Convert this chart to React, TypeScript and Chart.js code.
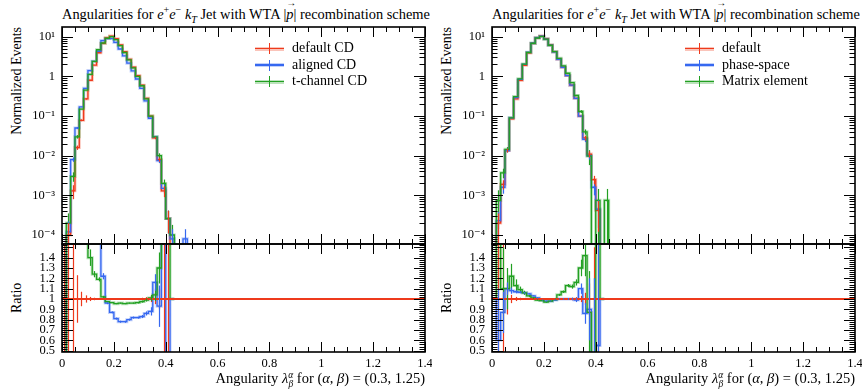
import React, { useEffect, useRef } from 'react';
import { Chart, registerables } from 'chart.js';

Chart.register(...registerables);

// ---------- axes / binning ----------
const BIN_WIDTH = 1 / 60;
const X_MIN = 0;
const X_MAX = 1.4;
const LOG_MIN = 5.93e-5;
const LOG_MAX = 17.6;
const RATIO_MIN = 0.487;
const RATIO_MAX = 1.532;
const REF_RATIO = 1;

const X_TICKS = [0, 0.2, 0.4, 0.6, 0.8, 1, 1.2, 1.4];
const X_TICK_LABELS = ['0', '0.2', '0.4', '0.6', '0.8', '1', '1.2', '1.4'];
const LOG_TICKS = [1e-4, 1e-3, 1e-2, 1e-1, 1, 10];
const LOG_TICK_LABELS = ['10⁻⁴', '10⁻³', '10⁻²', '10⁻¹', '1', '10¹'];
const RATIO_TICKS = [0.5, 0.6, 0.7, 0.8, 0.9, 1, 1.1, 1.2, 1.3, 1.4];
const RATIO_TICK_LABELS = ['0.5', '0.6', '0.7', '0.8', '0.9', '1', '1.1', '1.2', '1.3', '1.4'];

const LEFT_LEGEND = ['default CD', 'aligned CD', 't-channel CD'];
const RIGHT_LEGEND = ['default', 'phase-space', 'Matrix element'];

// ---------- left panel: normalized events per bin ----------
const LEFT_DEFAULT_CD = [0, 1.0e-4, 1.3e-3, 1.6e-2, 7.8e-2, 0.27, 0.8, 1.92, 3.95, 6.8, 9.4, 10.4, 8.9, 6.2, 4.2, 2.7, 1.7, 1.05, 0.6, 0.28, 0.1, 0.028, 8e-3, 1.3e-3, 2.6e-4, 0, 0, 0, 0, 0];
const LEFT_ALIGNED_CD = [0, 1.2e-4, 8e-3, 5e-2, 0.17, 0.5, 1.4, 2.4, 4.3, 8.0, 9.0, 9.0, 7.2, 4.9, 3.3, 2.15, 1.37, 0.86, 0.5, 0.24, 0.088, 0.03, 7.5e-3, 1.5e-3, 2.6e-4, 8e-5, 0, 0, 8e-5, 0];
const LEFT_TCHANNEL_CD = [0, 2e-4, 3e-3, 3e-2, 0.15, 0.45, 1.12, 2.38, 4.7, 6.95, 9.15, 10.05, 8.5, 5.95, 4.0, 2.6, 1.63, 1.0, 0.58, 0.27, 0.1, 0.03, 0.01, 2e-3, 2.6e-4, 1e-4, 0, 0, 0, 0];

const LEFT_DEFAULT_CD_ERR = [0, 1e-4, 5e-4, 2e-3, 4e-3, 0.01, 0, 0, 0, 0, 0, 0, 0, 0, 0, 0, 0, 0, 0, 0, 0, 2e-3, 1e-3, 4e-4, 1.5e-4, 0, 0, 0, 0, 0];
const LEFT_ALIGNED_CD_ERR = [0, 1e-4, 1e-3, 3e-3, 0, 0, 0, 0, 0, 0, 0, 0, 0, 0, 0, 0, 0, 0, 0, 0, 0, 0, 1e-3, 4e-4, 1.5e-4, 6e-5, 0, 0, 6e-5, 0];
const LEFT_TCHANNEL_CD_ERR = [0, 1.5e-4, 8e-4, 3e-3, 0, 0, 0, 0, 0, 0, 0, 0, 0, 0, 0, 0, 0, 0, 0, 0, 0, 0, 1.5e-3, 5e-4, 1.5e-4, 8e-5, 0, 0, 0, 0];

// ---------- right panel: normalized events per bin ----------
const RIGHT_DEFAULT = [0, 2e-4, 1.9e-3, 1.35e-2, 8.5e-2, 0.27, 0.79, 1.9, 3.9, 6.8, 9.4, 10.4, 8.9, 6.2, 4.2, 2.7, 1.7, 1.05, 0.6, 0.28, 0.1, 0.028, 0.011, 2.5e-3, 4.2e-4, 0, 0, 0, 0, 0];
const RIGHT_PHASE_SPACE = [0, 2.3e-4, 1.6e-3, 1.35e-2, 9e-2, 0.29, 0.84, 2.0, 4.05, 6.9, 9.45, 10.3, 8.75, 6.1, 4.15, 2.7, 1.7, 1.05, 0.6, 0.28, 0.1, 0.026, 0.01, 1.6e-3, 4.5e-4, 0, 0, 0, 0, 0];
const RIGHT_MATRIX_ELEMENT = [0, 7.4e-4, 3.7e-3, 1.45e-2, 9e-2, 0.31, 0.87, 2.05, 4.0, 6.85, 9.3, 10.2, 8.7, 6.1, 4.2, 2.85, 1.85, 1.2, 0.7, 0.33, 0.13, 0.04, 9.8e-3, 0, 7.5e-4, 0, 7.5e-4, 0, 0, 0];

const RIGHT_DEFAULT_ERR = [0, 1.5e-4, 5e-4, 1.5e-3, 0, 0, 0, 0, 0, 0, 0, 0, 0, 0, 0, 0, 0, 0, 0, 0, 0, 4e-3, 2e-3, 6e-4, 3e-4, 0, 0, 0, 0, 0];
const RIGHT_PHASE_SPACE_ERR = [0, 1.5e-4, 5e-4, 1.5e-3, 0, 0, 0, 0, 0, 0, 0, 0, 0, 0, 0, 0, 0, 0, 0, 0, 0, 4e-3, 2e-3, 6e-4, 3e-4, 0, 0, 0, 0, 0];
const RIGHT_MATRIX_ELEMENT_ERR = [0, 6e-4, 1e-3, 2e-3, 0, 0, 0, 0, 0, 0, 0, 0, 0, 0, 0, 0, 0, 0, 0, 0, 0.01, 6e-3, 4e-3, 0, 7e-4, 0, 7e-4, 0, 0, 0];

// ---------- ratio panels (ratio to default) ----------
const LEFT_RATIO_ALIGNED = [0.2, 3, 3, 3, 3, 3, 3, 3, 3, 1.22, 0.96, 0.87, 0.81, 0.78, 0.78, 0.8, 0.82, 0.82, 0.83, 0.86, 0.88, 1.16, 0.93, 3, 0.3, 1];
const LEFT_RATIO_TCHANNEL = [0.2, 3, 3, 3, 3, 3, 1.4, 1.24, 1.19, 1.02, 0.975, 0.965, 0.955, 0.96, 0.955, 0.96, 0.96, 0.965, 0.975, 0.99, 1.01, 1.04, 1.3, 3, 3, 1];
const LEFT_RATIO_DEFAULT_ERR = [1, 1, 1, 0.23, 0.07, 0.035, 0.02, 0.012, 0.008, 0.006, 0.005, 0.005, 0.005, 0.005, 0.005, 0.006, 0.007, 0.009, 0.012, 0.018, 0.03, 0.05, 0.1, 0.6, 1, 0];
const LEFT_RATIO_ALIGNED_ERR = [0, 0, 0, 0, 0, 0, 0, 0, 0, 0.03, 0.01, 0.01, 0.01, 0.01, 0.01, 0.01, 0.01, 0.01, 0.015, 0.02, 0.04, 0.08, 0.2, 0, 0, 0];
const LEFT_RATIO_TCHANNEL_ERR = [0, 0, 0, 0, 0, 0, 0.08, 0.03, 0.02, 0.01, 0.005, 0.005, 0.005, 0.005, 0.005, 0.005, 0.006, 0.008, 0.01, 0.015, 0.03, 0.06, 0.15, 0, 0, 0];

const RIGHT_RATIO_PHASE_SPACE = [1, 0.6, 0.87, 1.1, 1.08, 1.07, 1.065, 1.06, 1.05, 1.03, 1.01, 0.99, 0.98, 0.98, 0.99, 1.0, 1.0, 1.0, 1.0, 0.99, 1.1, 0.86, 0.9, 0.2, 0.55, 1];
const RIGHT_RATIO_MATRIX_ELEMENT = [1, 3, 1.1, 1.1, 1.22, 1.13, 1.09, 1.06, 1.03, 1.01, 0.99, 0.985, 0.97, 0.98, 0.995, 1.04, 1.07, 1.13, 1.12, 1.16, 1.3, 1.42, 0.87, 0.2, 3, 1];
const RIGHT_RATIO_DEFAULT_ERR = [0, 1, 1, 0.15, 0.04, 0.02, 0.012, 0.008, 0.006, 0.005, 0.005, 0.005, 0.005, 0.005, 0.005, 0.006, 0.007, 0.009, 0.012, 0.018, 0.03, 0.06, 0.15, 0.5, 1, 0];
const RIGHT_RATIO_PHASE_SPACE_ERR = [0, 0.5, 0.2, 0.06, 0.03, 0.015, 0.01, 0.008, 0.006, 0.005, 0.005, 0.005, 0.005, 0.005, 0.005, 0.006, 0.007, 0.009, 0.012, 0.02, 0.05, 0.1, 0.3, 1, 1, 0];
const RIGHT_RATIO_MATRIX_ELEMENT_ERR = [0, 1, 0.4, 0.2, 0.12, 0.06, 0.03, 0.02, 0.01, 0.008, 0.006, 0.006, 0.006, 0.006, 0.008, 0.01, 0.012, 0.015, 0.02, 0.03, 0.08, 0.2, 0.4, 1, 1, 0];

// ---------- styles ----------
const RED = '#ee3a1c';
const BLUE = '#3668f0';
const GREEN = '#22a022';
const RED_BAND = 'rgba(238,58,28,0.3)';
const BLUE_BAND = 'rgba(54,104,240,0.3)';
const GREEN_BAND = 'rgba(34,160,34,0.3)';
const FONT = "'Liberation Serif', 'DejaVu Serif', serif";

const LOG_FLOOR = 1e-9;

function stepPoints(vals: number[], floor: number) {
  const pts = vals.map((v, i) => ({ x: i * BIN_WIDTH, y: v > 0 ? v : floor }));
  const last = vals[vals.length - 1];
  pts.push({ x: vals.length * BIN_WIDTH, y: last > 0 ? last : floor });
  return pts;
}

function lineDs(vals: number[], color: string, width: number, floor: number, errs?: number[]) {
  return {
    data: stepPoints(vals, floor),
    borderColor: color,
    backgroundColor: color,
    borderWidth: width,
    pointRadius: 0,
    stepped: 'before',
    fill: false,
    tension: 0,
    clip: 0,
    spanGaps: true,
    vals,
    errs,
  };
}

const frameTicksPlugin = {
  id: 'frameTicks',
  afterDatasetsDraw(chart: any) {
    const opts = chart.options.plugins.frameTicks;
    if (!opts) return;
    const { ctx, chartArea: a, scales } = chart;
    const xs = scales.x;
    const ys = scales.y;
    // error bars
    ctx.save();
    ctx.beginPath();
    ctx.rect(a.left, a.top, a.right - a.left, a.bottom - a.top);
    ctx.clip();
    chart.data.datasets.forEach((ds: any) => {
      if (!ds.errs) return;
      ctx.strokeStyle = ds.borderColor;
      ctx.lineWidth = 1.2;
      ds.errs.forEach((e: number, i: number) => {
        if (!e) return;
        const v = ds.vals[i];
        const cx = Math.round(xs.getPixelForValue((i + 0.5) * BIN_WIDTH)) + 0.5;
        const hi = v + e;
        const lo = v - e;
        const pyHi = ys.getPixelForValue(hi);
        const pyLo = opts.log && lo <= 0 ? a.bottom + 20 : ys.getPixelForValue(lo);
        ctx.beginPath();
        ctx.moveTo(cx, pyHi);
        ctx.lineTo(cx, pyLo);
        ctx.stroke();
      });
    });
    ctx.restore();

    // inner ticks + frame
    ctx.save();
    ctx.strokeStyle = '#000';
    ctx.lineWidth = 1;
    const tick = (x1: number, y1: number, x2: number, y2: number) => {
      ctx.beginPath();
      ctx.moveTo(x1, y1);
      ctx.lineTo(x2, y2);
      ctx.stroke();
    };
    for (let i = 0; i <= 28; i++) {
      const v = i * 0.05;
      const major = i % 4 === 0;
      const len = major ? 10 : 5;
      const px = Math.round(xs.getPixelForValue(v)) + 0.5;
      tick(px, a.bottom, px, a.bottom - len);
      tick(px, a.top, px, a.top + len);
    }
    if (opts.log) {
      for (let d = -5; d <= 1; d++) {
        for (let m = 1; m <= 9; m++) {
          const v = m * Math.pow(10, d);
          if (v < ys.min || v > ys.max) continue;
          const len = m === 1 ? 11 : 5.5;
          const py = Math.round(ys.getPixelForValue(v)) + 0.5;
          tick(a.left, py, a.left + len, py);
          tick(a.right, py, a.right - len, py);
        }
      }
    } else {
      for (let i = 25; i <= 76; i++) {
        const v = i * 0.02;
        const major = i % 5 === 0;
        const len = major ? 11 : 5.5;
        const py = Math.round(ys.getPixelForValue(v)) + 0.5;
        tick(a.left, py, a.left + len, py);
        tick(a.right, py, a.right - len, py);
      }
    }
    ctx.lineWidth = 1.6;
    ctx.strokeRect(a.left, a.top, a.right - a.left, a.bottom - a.top);
    ctx.restore();
  },
};

const TICK_FONT = { family: FONT, size: 12.5 };

function baseX(display: boolean) {
  return {
    type: 'linear',
    min: X_MIN,
    max: X_MAX,
    display,
    afterFit: (s: any) => {
      if (display) s.height = 37;
      s.paddingLeft = 0;
      s.paddingRight = 0;
    },
    afterBuildTicks: (s: any) => {
      s.ticks = X_TICKS.map((v) => ({ value: v }));
    },
    ticks: {
      autoSkip: false,
      maxRotation: 0,
      padding: 4,
      color: '#000',
      font: TICK_FONT,
      callback: (v: number) => X_TICK_LABELS[X_TICKS.indexOf(v)] ?? '',
    },
    grid: { display: false, drawTicks: false },
    border: { display: false },
  };
}

function yFit(s: any) {
  s.width = 62;
  s.paddingTop = 0;
  s.paddingBottom = 0;
}

function mainConfig(datasets: any[]) {
  return {
    type: 'line',
    data: { datasets },
    plugins: [frameTicksPlugin],
    options: {
      animation: false,
      responsive: false,
      devicePixelRatio: 1,
      events: [],
      layout: { padding: { top: 27, bottom: 6, right: 7, left: 0 } },
      plugins: { legend: { display: false }, tooltip: { enabled: false }, frameTicks: { log: true } },
      scales: {
        x: baseX(false),
        y: {
          type: 'logarithmic',
          min: LOG_MIN,
          max: LOG_MAX,
          afterFit: yFit,
          afterBuildTicks: (s: any) => {
            s.ticks = LOG_TICKS.map((v) => ({ value: v }));
          },
          ticks: {
            autoSkip: false,
            padding: 7,
            color: '#000',
            font: TICK_FONT,
            callback: (v: number) => LOG_TICK_LABELS[LOG_TICKS.indexOf(v)] ?? '',
          },
          grid: { display: false, drawTicks: false },
          border: { display: false },
        },
      },
    },
  };
}

function ratioConfig(datasets: any[]) {
  return {
    type: 'line',
    data: { datasets },
    plugins: [frameTicksPlugin],
    options: {
      animation: false,
      responsive: false,
      devicePixelRatio: 1,
      events: [],
      layout: { padding: { top: 6, bottom: 0, right: 7, left: 0 } },
      plugins: { legend: { display: false }, tooltip: { enabled: false }, frameTicks: { log: false } },
      scales: {
        x: baseX(true),
        y: {
          type: 'linear',
          min: RATIO_MIN,
          max: RATIO_MAX,
          afterFit: yFit,
          afterBuildTicks: (s: any) => {
            s.ticks = RATIO_TICKS.map((v) => ({ value: v }));
          },
          ticks: {
            autoSkip: false,
            padding: 7,
            color: '#000',
            font: TICK_FONT,
            callback: (v: number) => RATIO_TICK_LABELS[RATIO_TICKS.indexOf(v)] ?? '',
          },
          grid: { display: false, drawTicks: false },
          border: { display: false },
        },
      },
    },
  };
}

function refRatioDs(errs: number[]) {
  const ds: any = {
    data: [
      { x: X_MIN, y: REF_RATIO },
      { x: X_MAX, y: REF_RATIO },
    ],
    borderColor: RED,
    borderWidth: 2,
    pointRadius: 0,
    fill: false,
    tension: 0,
    clip: 0,
    vals: errs.map(() => REF_RATIO),
    errs,
  };
  return ds;
}

function ChartCanvas({ left, top, width, height, build }: any) {
  const ref = useRef<HTMLCanvasElement>(null);
  useEffect(() => {
    const chart = new Chart(ref.current as HTMLCanvasElement, build());
    return () => chart.destroy();
  }, []);
  return (
    <canvas
      ref={ref}
      width={width}
      height={height}
      style={{ position: 'absolute', left, top, width, height, display: 'block' }}
    />
  );
}

function Legend({ left, top, labels }: { left: number; top: number; labels: string[] }) {
  const colors = [RED, BLUE, GREEN];
  const bands = [RED_BAND, BLUE_BAND, GREEN_BAND];
  return (
    <div style={{ position: 'absolute', left, top }}>
      {labels.map((lab, i) => (
        <div key={lab} style={{ position: 'relative', height: 16.5, width: 160 }}>
          <div style={{ position: 'absolute', left: 0, top: 6.5, width: 29, height: 4, background: bands[i] }} />
          <div style={{ position: 'absolute', left: 0, top: 7.5, width: 29, height: 1.6, background: colors[i] }} />
          <div style={{ position: 'absolute', left: 14, top: 3, width: 1.4, height: 11, background: colors[i] }} />
          <span
            style={{
              position: 'absolute',
              left: 37,
              top: 0,
              fontSize: 14,
              lineHeight: '16px',
              whiteSpace: 'nowrap',
              fontFamily: FONT,
            }}
          >
            {lab}
          </span>
        </div>
      ))}
    </div>
  );
}

function VecP() {
  return (
    <span style={{ position: 'relative', display: 'inline-block' }}>
      <i>p</i>
      <span style={{ position: 'absolute', left: 0, top: -8, fontSize: 10, lineHeight: '10px' }}>→</span>
    </span>
  );
}

function Panel({ offsetX, main, ratio, legend }: any) {
  return (
    <>
      <div
        style={{
          position: 'absolute',
          left: offsetX + 62,
          top: 2,
          fontSize: 14.4,
          lineHeight: '16px',
          whiteSpace: 'nowrap',
          fontFamily: FONT,
        }}
      >
        Angularities for <i>e</i>
        <sup style={{ fontSize: '0.7em' }}>+</sup>
        <i>e</i>
        <sup style={{ fontSize: '0.7em' }}>−</sup> <i>k</i>
        <sub style={{ fontSize: '0.7em' }}>
          <i>T</i>
        </sub>{' '}
        Jet with WTA |<VecP />| recombination scheme
      </div>
      <div
        style={{
          position: 'absolute',
          left: offsetX + 9,
          top: 27,
          writingMode: 'vertical-rl',
          transform: 'rotate(180deg)',
          fontSize: 14,
          lineHeight: '16px',
          whiteSpace: 'nowrap',
          fontFamily: FONT,
        }}
      >
        Normalized Events
      </div>
      <div
        style={{
          position: 'absolute',
          left: offsetX + 9,
          top: 244,
          height: 108,
          writingMode: 'vertical-rl',
          transform: 'rotate(180deg)',
          textAlign: 'center',
          fontSize: 14,
          lineHeight: '16px',
          whiteSpace: 'nowrap',
          fontFamily: FONT,
        }}
      >
        Ratio
      </div>
      <ChartCanvas left={offsetX} top={0} width={432} height={250} build={main} />
      <ChartCanvas left={offsetX} top={238} width={432} height={151} build={ratio} />
      <Legend left={offsetX + 255} top={40} labels={legend} />
      <div
        style={{
          position: 'absolute',
          left: offsetX + 180,
          width: 245,
          top: 370,
          textAlign: 'right',
          fontSize: 14.5,
          lineHeight: '16px',
          whiteSpace: 'nowrap',
          fontFamily: FONT,
        }}
      >
        Angularity <i>λ</i>
        <span
          style={{
            display: 'inline-flex',
            flexDirection: 'column',
            verticalAlign: 'middle',
            fontSize: '0.65em',
            lineHeight: '0.9',
          }}
        >
          <i>α</i>
          <i>β</i>
        </span>{' '}
        for (<i>α</i>, <i>β</i>) = (0.3, 1.25)
      </div>
    </>
  );
}

export default function App() {
  const leftMain = () =>
    mainConfig([
      lineDs(LEFT_TCHANNEL_CD, GREEN, 1.3, LOG_FLOOR, LEFT_TCHANNEL_CD_ERR),
      lineDs(LEFT_ALIGNED_CD, BLUE, 1.3, LOG_FLOOR, LEFT_ALIGNED_CD_ERR),
      lineDs(LEFT_DEFAULT_CD, RED, 1.3, LOG_FLOOR, LEFT_DEFAULT_CD_ERR),
      lineDs(LEFT_TCHANNEL_CD, GREEN_BAND, 3, LOG_FLOOR),
      lineDs(LEFT_ALIGNED_CD, BLUE_BAND, 3, LOG_FLOOR),
      lineDs(LEFT_DEFAULT_CD, RED_BAND, 3, LOG_FLOOR),
    ]);
  const leftRatio = () =>
    ratioConfig([
      refRatioDs(LEFT_RATIO_DEFAULT_ERR),
      lineDs(LEFT_RATIO_TCHANNEL, GREEN, 1.3, 0, LEFT_RATIO_TCHANNEL_ERR),
      lineDs(LEFT_RATIO_ALIGNED, BLUE, 1.3, 0, LEFT_RATIO_ALIGNED_ERR),
      lineDs(LEFT_RATIO_TCHANNEL, GREEN_BAND, 3, 0),
      lineDs(LEFT_RATIO_ALIGNED, BLUE_BAND, 3, 0),
    ]);
  const rightMain = () =>
    mainConfig([
      lineDs(RIGHT_MATRIX_ELEMENT, GREEN, 1.3, LOG_FLOOR, RIGHT_MATRIX_ELEMENT_ERR),
      lineDs(RIGHT_PHASE_SPACE, BLUE, 1.3, LOG_FLOOR, RIGHT_PHASE_SPACE_ERR),
      lineDs(RIGHT_DEFAULT, RED, 1.3, LOG_FLOOR, RIGHT_DEFAULT_ERR),
      lineDs(RIGHT_MATRIX_ELEMENT, GREEN_BAND, 3, LOG_FLOOR),
      lineDs(RIGHT_PHASE_SPACE, BLUE_BAND, 3, LOG_FLOOR),
      lineDs(RIGHT_DEFAULT, RED_BAND, 3, LOG_FLOOR),
    ]);
  const rightRatio = () =>
    ratioConfig([
      refRatioDs(RIGHT_RATIO_DEFAULT_ERR),
      lineDs(RIGHT_RATIO_MATRIX_ELEMENT, GREEN, 1.3, 0, RIGHT_RATIO_MATRIX_ELEMENT_ERR),
      lineDs(RIGHT_RATIO_PHASE_SPACE, BLUE, 1.3, 0, RIGHT_RATIO_PHASE_SPACE_ERR),
      lineDs(RIGHT_RATIO_MATRIX_ELEMENT, GREEN_BAND, 3, 0),
      lineDs(RIGHT_RATIO_PHASE_SPACE, BLUE_BAND, 3, 0),
    ]);

  return (
    <div
      style={{
        position: 'fixed',
        left: 0,
        top: 0,
        width: 863,
        height: 389,
        background: '#fff',
        overflow: 'hidden',
        color: '#000',
      }}
    >
      <Panel offsetX={0} main={leftMain} ratio={leftRatio} legend={LEFT_LEGEND} />
      <Panel offsetX={430} main={rightMain} ratio={rightRatio} legend={RIGHT_LEGEND} />
    </div>
  );
}
